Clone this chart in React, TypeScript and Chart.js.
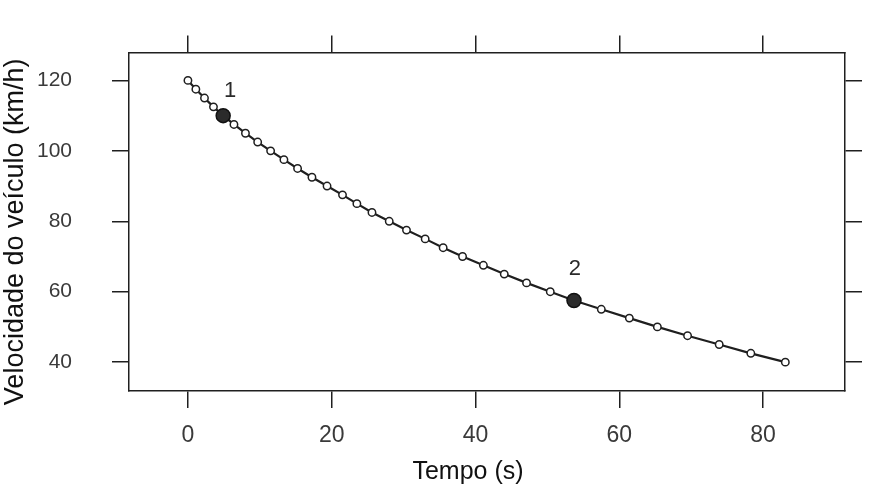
import React, { useEffect, useRef } from "react";
import { Chart, registerables } from "chart.js";

Chart.register(...registerables);

// ---- data ----
const timeSeconds = [
  0, 1.1, 2.3, 3.55, 4.9, 6.4, 8.0, 9.7, 11.5, 13.35, 15.25, 17.25, 19.35,
  21.5, 23.5, 25.6, 28.0, 30.4, 33.0, 35.5, 38.2, 41.1, 44.0, 47.1, 50.4,
  53.7, 57.5, 61.4, 65.3, 69.5, 73.9, 78.3, 83.1,
];
const speedKmh = [
  120, 117.5, 115, 112.5, 110, 107.5, 105, 102.5, 100, 97.5, 95, 92.5, 90,
  87.5, 85, 82.5, 80, 77.5, 75, 72.5, 70, 67.5, 65, 62.5, 60, 57.5, 55, 52.5,
  50, 47.5, 45, 42.5, 40,
];
const markedTimes = [4.9, 53.7];
const markedSpeeds = [110, 57.5];
const markedLabels = ["1", "2"];
const xTicks = [0, 20, 40, 60, 80];
const yTicks = [40, 60, 80, 100, 120];
const xTitle = "Tempo (s)";
const yTitle = "Velocidade do veículo (km/h)";

const X_MIN = -8.2;
const X_MAX = 91.4;
const Y_MIN = 31.8;
const Y_MAX = 127.9;

const FAMILY = '"Liberation Sans", Arial, Helvetica, sans-serif';
const INK = "#1f1f1f";
const LABEL = "#3a3a3a";

const annotationPlugin = {
  id: "markAndTitles",
  afterDatasetsDraw(chart: any) {
    const ctx = chart.ctx;
    const xs = chart.scales.x;
    const ys = chart.scales.y;
    const area = chart.chartArea;
    const offsets = [
      [7, -25],
      [1, -32],
    ];
    ctx.save();
    ctx.fillStyle = "#2a2a2a";
    ctx.font = `22px ${FAMILY}`;
    ctx.textAlign = "center";
    ctx.textBaseline = "middle";
    markedLabels.forEach((lab, i) => {
      const px = xs.getPixelForValue(markedTimes[i]);
      const py = ys.getPixelForValue(markedSpeeds[i]);
      ctx.fillText(lab, px + offsets[i][0], py + offsets[i][1]);
    });
    // axis titles
    ctx.fillStyle = "#111";
    ctx.font = `25px ${FAMILY}`;
    ctx.fillText(xTitle, (area.left + area.right) / 2 - 19, area.bottom + 81);
    ctx.translate(16, (area.top + area.bottom) / 2 + 10);
    ctx.rotate(-Math.PI / 2);
    ctx.font = `27px ${FAMILY}`;
    ctx.fillText(yTitle, 0, 0);
    ctx.restore();
  },
};

export default function App() {
  const ref = useRef<HTMLCanvasElement | null>(null);

  useEffect(() => {
    if (!ref.current) return;
    Chart.defaults.font.family = FAMILY;

    const grid = {
      drawOnChartArea: false,
      drawTicks: true,
      tickLength: 17,
      color: INK,
      lineWidth: 1.5,
    };
    const border = { display: true, color: INK, width: 1.5 };

    const chart = new Chart(ref.current, {
      type: "scatter",
      data: {
        datasets: [
          {
            label: "marcados",
            data: markedTimes.map((t, i) => ({ x: t, y: markedSpeeds[i] })),
            showLine: false,
            pointRadius: 7,
            pointBackgroundColor: "#2b2b2b",
            pointBorderColor: "#111",
            pointBorderWidth: 1.5,
          },
          {
            label: "velocidade",
            data: timeSeconds.map((t, i) => ({ x: t, y: speedKmh[i] })),
            showLine: true,
            borderColor: INK,
            borderWidth: 2.2,
            pointRadius: 3.7,
            pointBackgroundColor: "#ffffff",
            pointBorderColor: INK,
            pointBorderWidth: 1.5,
          },
        ],
      },
      options: {
        responsive: false,
        animation: false,
        devicePixelRatio: 1,
        layout: { padding: 0 },
        plugins: {
          legend: { display: false },
          tooltip: { enabled: false },
        },
        scales: {
          x: {
            type: "linear",
            position: "bottom",
            min: X_MIN,
            max: X_MAX,
            afterBuildTicks: (s: any) => {
              s.ticks = xTicks.map((v) => ({ value: v }));
            },
            afterFit: (s: any) => {
              s.height = 95;
            },
            grid,
            border,
            ticks: {
              font: { size: 23, family: FAMILY },
              color: LABEL,
              padding: 14,
              maxRotation: 0,
            },
          },
          x2: {
            type: "linear",
            position: "top",
            min: X_MIN,
            max: X_MAX,
            afterBuildTicks: (s: any) => {
              s.ticks = xTicks.map((v) => ({ value: v }));
            },
            afterFit: (s: any) => {
              s.height = 51;
            },
            grid,
            border,
            ticks: { display: false },
          },
          y: {
            type: "linear",
            position: "left",
            min: Y_MIN,
            max: Y_MAX,
            afterBuildTicks: (s: any) => {
              s.ticks = yTicks.map((v) => ({ value: v }));
            },
            afterFit: (s: any) => {
              s.width = 129;
            },
            grid,
            border,
            ticks: {
              font: { size: 21, family: FAMILY },
              color: LABEL,
              padding: 40,
            },
          },
          y2: {
            type: "linear",
            position: "right",
            min: Y_MIN,
            max: Y_MAX,
            afterBuildTicks: (s: any) => {
              s.ticks = yTicks.map((v) => ({ value: v }));
            },
            afterFit: (s: any) => {
              s.width = 44;
            },
            grid,
            border,
            ticks: { display: false },
          },
        },
      },
      plugins: [annotationPlugin],
    } as any);

    return () => chart.destroy();
  }, []);

  return (
    <div
      style={{
        position: "absolute",
        left: 0,
        top: 0,
        width: 889,
        height: 486,
        background: "#ffffff",
      }}
    >
      <canvas ref={ref} width={889} height={486} />
    </div>
  );
}
